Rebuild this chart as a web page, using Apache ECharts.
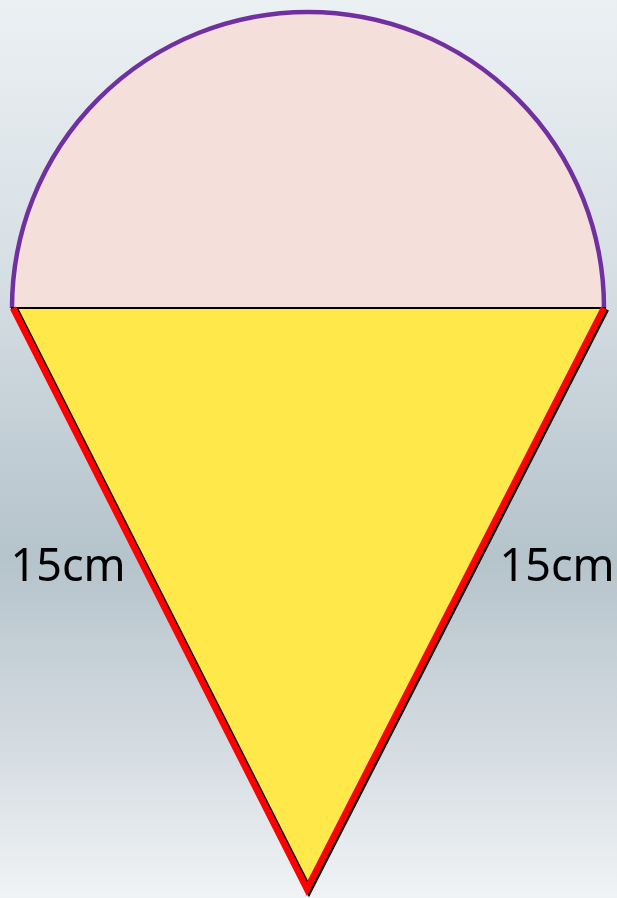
<!DOCTYPE html>
<html>
<head>
<meta charset="utf-8">
<script src="https://cdn.jsdelivr.net/npm/echarts@6/dist/echarts.min.js"></script>
<style>
  html, body { margin: 0; padding: 0; }
  #chart { width: 617px; height: 898px; }
</style>
</head>
<body>
<div id="chart"></div>
<script>
// figure values, in drawing units (x right, y down)
const scoop = [[308, 308, 296]] // centre x, centre y, radius
const cone = [[13, 308], [604, 308], [307, 889]]
const sideLabels = ['15cm', '15cm']
const labelPoints = [[68, 568], [557, 568]]

const chart = echarts.init(document.getElementById('chart'))

chart.setOption({
  backgroundColor: {
    type: 'linear',
    x: 0, y: 0, x2: 0, y2: 1,
    colorStops: [
      { offset: 0, color: '#ebf0f3' },
      { offset: 0.3, color: '#d6dfe4' },
      { offset: 0.62, color: '#b5c3cb' },
      { offset: 0.85, color: '#d7dee3' },
      { offset: 1, color: '#f0f3f5' }
    ]
  },
  animation: false,
  grid: { left: 0, right: 0, top: 0, bottom: 0 },
  xAxis: { type: 'value', min: 0, max: 617, show: false },
  yAxis: { type: 'value', min: 0, max: 898, inverse: true, show: false },
  series: [
    {
      // semicircle on top
      type: 'custom',
      data: scoop,
      renderItem (params, api) {
        const c = api.coord([api.value(0), api.value(1)])
        const r = api.size([api.value(2), 0])[0]
        return {
          type: 'group',
          children: [
            {
              type: 'sector',
              shape: { cx: c[0], cy: c[1], r: r, r0: 0, startAngle: Math.PI, endAngle: Math.PI * 2, clockwise: true },
              style: { fill: '#f4dfdb' }
            },
            {
              type: 'arc',
              shape: { cx: c[0], cy: c[1], r: r, startAngle: Math.PI, endAngle: Math.PI * 2, clockwise: true },
              style: { fill: null, stroke: '#7030a0', lineWidth: 4.5 }
            }
          ]
        }
      }
    },
    {
      // cone triangle
      type: 'custom',
      data: [0],
      renderItem (params, api) {
        const pts = cone.map(p => api.coord(p))
        return {
          type: 'group',
          children: [
            {
              type: 'polygon',
              shape: { points: pts },
              style: { fill: '#ffe84a' }
            },
            {
              type: 'line',
              shape: { x1: pts[0][0] - 2, y1: pts[0][1], x2: pts[1][0] + 2, y2: pts[1][1] },
              style: { stroke: '#000', lineWidth: 2 }
            },
            {
              type: 'polyline',
              shape: { points: [pts[0], pts[2], pts[1]] },
              style: {
                fill: null,
                stroke: '#ff0000',
                lineWidth: 6.5,
                lineJoin: 'miter',
                shadowColor: '#000',
                shadowBlur: 0,
                shadowOffsetX: 2,
                shadowOffsetY: 1
              }
            }
          ]
        }
      }
    },
    {
      // side lengths
      type: 'custom',
      data: labelPoints,
      renderItem (params, api) {
        const p = api.coord([api.value(0), api.value(1)])
        return {
          type: 'text',
          x: p[0],
          y: p[1],
          style: {
            text: sideLabels[params.dataIndex],
            fill: '#000',
            font: '45px "Noto Sans"',
            align: 'center',
            verticalAlign: 'middle'
          }
        }
      }
    }
  ]
})
</script>
</body>
</html>
